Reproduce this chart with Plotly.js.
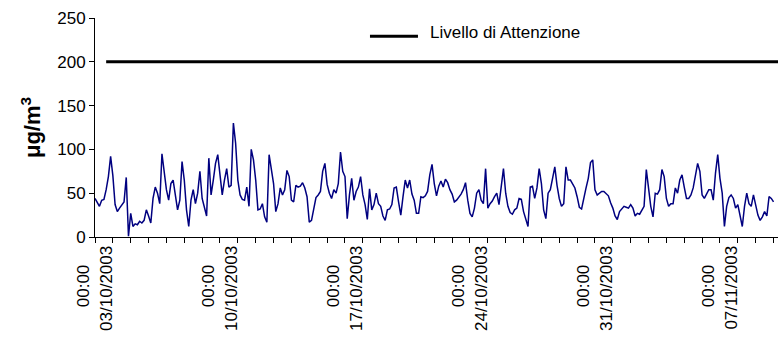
<!DOCTYPE html>
<html>
<head>
<meta charset="utf-8">
<script src="https://cdn.plot.ly/plotly-3.0.1.min.js"></script>
<style>
  html, body { margin: 0; padding: 0; background: #fff; }
  #chart { width: 780px; height: 338px; }
</style>
</head>
<body>
<div id="chart"></div>
<script>
// Hourly station readings sampled every 3 hours (µg/m³), one array per week,
// starting 03/10/2003 00:00.
const seriesStart = '2003-10-03T00:00:00';
const stepHours = 3;

const week1 = [44, 40, 35, 42, 43, 54, 69, 92, 70, 37, 29, 33, 37, 40, 68, 1,
  27, 12, 15, 14, 18, 16, 19, 31, 24, 16, 44, 57, 50, 38, 95, 73,
  54, 42, 61, 65, 50, 31, 42, 86, 65, 31, 12, 42, 54, 38, 50, 75,
  44, 33, 24, 90, 48, 65, 84, 94];
const week2 = [71, 48, 65, 78, 57, 59, 130, 107, 65, 48, 43, 42, 57, 35, 100, 88,
  65, 31, 32, 38, 23, 17, 94, 78, 61, 29, 38, 56, 48, 54, 76, 69,
  42, 40, 59, 57, 58, 62, 56, 46, 17, 19, 33, 45, 48, 52, 75, 84,
  60, 50, 44, 54, 50, 61, 97, 75];
const week3 = [69, 21, 48, 67, 42, 52, 57, 69, 48, 37, 20, 55, 31, 37, 50, 38,
  35, 24, 19, 31, 32, 37, 56, 57, 40, 25, 46, 65, 56, 65, 49, 42,
  27, 27, 46, 45, 47, 52, 71, 83, 61, 47, 58, 64, 57, 66, 62, 54,
  49, 40, 42, 45, 49, 54, 62, 42];
const week4 = [27, 23, 33, 50, 54, 42, 38, 78, 33, 38, 41, 46, 50, 37, 57, 78,
  50, 35, 28, 26, 31, 33, 44, 43, 29, 19, 12, 57, 58, 44, 56, 78,
  61, 31, 21, 50, 54, 67, 80, 59, 44, 35, 38, 80, 65, 65, 61, 56,
  46, 34, 32, 46, 56, 67, 85, 88];
const week5 = [54, 48, 50, 52, 52, 49, 47, 39, 33, 24, 20, 29, 32, 35, 34, 33,
  37, 33, 24, 27, 26, 31, 35, 77, 52, 35, 23, 50, 49, 54, 77, 69,
  44, 35, 38, 38, 56, 50, 65, 71, 57, 44, 44, 48, 56, 69, 84, 75,
  48, 44, 50, 54, 54, 42, 73, 94];
const week6 = [67, 50, 12, 35, 45, 48, 44, 33, 37, 25, 12, 35, 50, 38, 35, 48,
  38, 25, 19, 23, 29, 24, 46, 44, 40];

// Alert threshold ("Livello di Attenzione")
const thresholdLabel = 'Livello di Attenzione';
const thresholdTimes = ['2003-10-03T15:00:00', '2003-11-10T06:00:00'];
const thresholdValues = [200, 200];

// Weekly labelled ticks
const tickDates = ['2003-10-03', '2003-10-10', '2003-10-17', '2003-10-24', '2003-10-31', '2003-11-07'];
const tickDateLabels = ['03/10/2003', '10/10/2003', '17/10/2003', '24/10/2003', '31/10/2003', '07/11/2003'];
const tickTimeLabel = '00:00';

const yTicks = [0, 50, 100, 150, 200, 250];
const xRange = ['2003-10-03T00:00:00', '2003-11-10T06:00:00'];

const concentration = [].concat(week1, week2, week3, week4, week5, week6);
const t0 = new Date(seriesStart + 'Z').getTime();
const pad2 = n => String(n).padStart(2, '0');
const stamp = ms => {
  const d = new Date(ms);
  return d.getUTCFullYear() + '-' + pad2(d.getUTCMonth() + 1) + '-' + pad2(d.getUTCDate()) +
    ' ' + pad2(d.getUTCHours()) + ':00';
};
const times = concentration.map((_, i) => stamp(t0 + i * stepHours * 3600000));

const font = 'Liberation Sans, Arial, sans-serif';
// centre the short time line against the longer date line when rotated
const timeText = tickTimeLabel + '\u00a0'.repeat(4);

const traces = [
  {
    x: times, y: concentration, type: 'scatter', mode: 'lines',
    line: { color: '#000080', width: 1.5 },
    showlegend: false, hoverinfo: 'x+y'
  },
  {
    x: thresholdTimes, y: thresholdValues, type: 'scatter', mode: 'lines',
    name: thresholdLabel,
    line: { color: '#000000', width: 3 }
  }
];

const layout = {
  width: 780, height: 338,
  margin: { l: 95, r: 2, t: 18, b: 101 },
  paper_bgcolor: '#ffffff', plot_bgcolor: '#ffffff',
  font: { family: font, color: '#000', size: 17 },
  showlegend: true,
  legend: {
    x: 0.4026, y: 1.02, xanchor: 'left', yanchor: 'top',
    itemwidth: 50,
    bgcolor: 'rgba(0,0,0,0)', font: { size: 17, family: font }
  },
  xaxis: {
    type: 'date', range: xRange,
    tickmode: 'array', tickvals: tickDates,
    ticktext: tickDateLabels.map(d => timeText + '<br>' + d),
    tickangle: -90, tickfont: { size: 17, family: font },
    ticks: 'outside', ticklen: 5, tickcolor: '#000', tickwidth: 1,
    ticklabelstandoff: -4,
    minor: { dtick: 86400000, tick0: '2003-10-03', ticks: 'outside', ticklen: 5, tickcolor: '#000', showgrid: false },
    showline: true, linecolor: '#000', linewidth: 1,
    showgrid: false, zeroline: false
  },
  yaxis: {
    range: [0, 250], tickmode: 'array', tickvals: yTicks,
    tickfont: { size: 17, family: font },
    ticks: 'outside', ticklen: 5, tickcolor: '#000',
    showline: true, linecolor: '#000', linewidth: 1,
    showgrid: false, zeroline: false,
    title: { text: 'μg/m<sup>3</sup>', font: { size: 22, family: font, weight: 'bold' }, standoff: 10 }
  }
};

Plotly.newPlot('chart', traces, layout, { displayModeBar: false, staticPlot: true }).then(gd => {
  // widen the legend key and sit it on the label's baseline
  gd.querySelectorAll('.legend .legendlines path').forEach(p => p.setAttribute('d', 'M-2,5h50'));
});
</script>
</body>
</html>
